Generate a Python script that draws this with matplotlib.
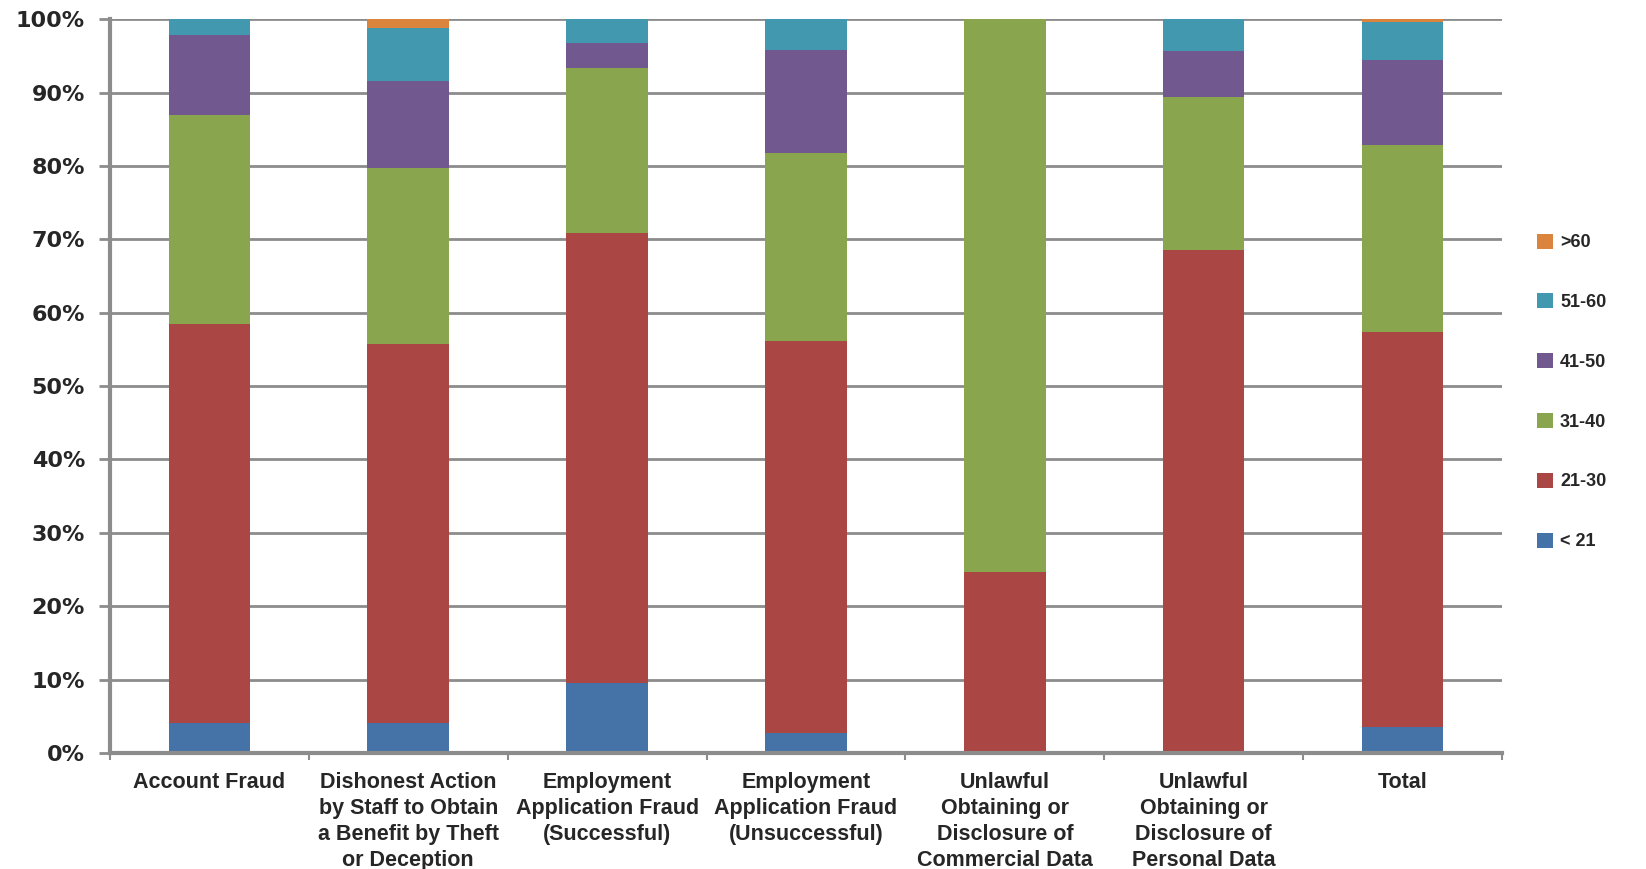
import numpy as np
import matplotlib.pyplot as plt

categories = [
    "Account Fraud",
    "Dishonest Action\nby Staff to Obtain\na Benefit by Theft\nor Deception",
    "Employment\nApplication Fraud\n(Successful)",
    "Employment\nApplication Fraud\n(Unsuccessful)",
    "Unlawful\nObtaining or\nDisclosure of\nCommercial Data",
    "Unlawful\nObtaining or\nDisclosure of\nPersonal Data",
    "Total",
]

# share of each age band per offence type, in percent
under_21 = [4.1, 4.1, 9.6, 2.7, 0.0, 0.0, 3.6]
age_21_30 = [54.4, 51.6, 61.2, 53.4, 24.7, 68.5, 53.8]
age_31_40 = [28.4, 24.0, 22.5, 25.7, 75.3, 20.9, 25.4]
age_41_50 = [10.9, 11.8, 3.5, 14.0, 0.0, 6.2, 11.6]
age_51_60 = [2.2, 7.3, 3.2, 4.2, 0.0, 4.4, 5.2]
over_60 = [0.0, 1.2, 0.0, 0.0, 0.0, 0.0, 0.4]

series = [under_21, age_21_30, age_31_40, age_41_50, age_51_60, over_60]
series_labels = ['< 21', '21-30', '31-40', '41-50', '51-60', '>60']
colors = ['#4572A7', '#AA4643', '#89A54E', '#71588F', '#4198AF', '#DB843D']

plt.rcParams['font.family'] = ['Liberation Sans', 'DejaVu Sans']
plt.rcParams['font.weight'] = 'bold'
plt.rcParams['font.size'] = 14
text_color = '#262626'
axis_gray = '#8c8c8c'

fig = plt.figure(figsize=(16.46, 8.69), dpi=100)
ax = fig.add_axes([0.0668, 0.1335, 0.8457, 0.8445])

x = np.arange(len(categories))
bottom = np.zeros(len(categories))
handles = []
for values, label, color in zip(series, series_labels, colors):
    bars = ax.bar(x, values, width=0.41, bottom=bottom, color=color,
                  label=label, zorder=2)
    handles.append(bars)
    bottom += np.array(values)

ax.set_xlim(-0.5, len(categories) - 0.5)
ax.set_ylim(0, 100)

ax.set_yticks(np.arange(0, 101, 10))
ax.set_yticklabels([f'{v}%' for v in range(0, 101, 10)],
                   family='DejaVu Sans', fontsize=16)
ax.yaxis.grid(True, color=axis_gray, linewidth=2, zorder=0)
ax.set_axisbelow(True)

ax.set_xticks(x)
ax.set_xticklabels(categories, linespacing=1.3, fontsize=15.5)
ax.set_xticks(np.arange(-0.5, len(categories)), minor=True)
ax.tick_params(axis='x', which='major', length=0, pad=14, colors=text_color)
ax.tick_params(axis='x', which='minor', length=5, width=1.5, color=axis_gray)
ax.tick_params(axis='y', length=8, width=2, pad=10, colors=text_color)
ax.tick_params(axis='y', which='major', color=axis_gray)

for side in ('top', 'right'):
    ax.spines[side].set_visible(False)
for side in ('left', 'bottom'):
    ax.spines[side].set_color(axis_gray)
    ax.spines[side].set_linewidth(3)

ax.legend(handles[::-1], series_labels[::-1], loc='center left',
          bbox_to_anchor=(0.928, 0.549), bbox_transform=fig.transFigure,
          frameon=False, handlelength=0.9, handleheight=0.9,
          handletextpad=0.4, labelspacing=2.33, borderpad=0,
          fontsize=13, labelcolor=text_color)

fig.savefig('out.png', dpi=100)
